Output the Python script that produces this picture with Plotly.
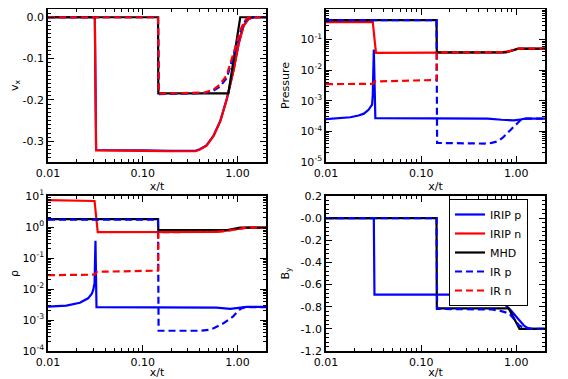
import math
import plotly.graph_objects as go
from plotly.subplots import make_subplots

# ---------------- data ----------------
# vx panel
vx_mhd_x = [0.01, 0.145, 0.146, 0.80, 1.07, 2.0]
vx_mhd_y = [0, 0, -0.184, -0.184, 0, 0]
vx_irp_x = [0.01, 0.145, 0.148, 0.30, 0.45, 0.55, 0.65, 0.77, 0.90, 1.00, 1.10, 1.20, 1.30, 2.0]
vx_irp_y = [0, 0, -0.186, -0.185, -0.183, -0.178, -0.168, -0.147, -0.095, -0.058, -0.028, -0.010, 0, 0]
vx_irn_x = [0.01, 0.145, 0.148, 0.30, 0.45, 0.55, 0.65, 0.77, 0.90, 1.00, 1.10, 1.20, 1.30, 2.0]
vx_irn_y = [0, 0, -0.185, -0.184, -0.182, -0.176, -0.163, -0.140, -0.090, -0.054, -0.025, -0.008, 0, 0]
vx_irip_p_x = [0.01, 0.0312, 0.0322, 0.05, 0.10, 0.20, 0.29, 0.36, 0.40, 0.47, 0.56, 0.66, 0.77, 0.91, 1.03, 1.16, 1.31, 1.48, 2.0]
vx_irip_p_y = [0, 0, -0.321, -0.321, -0.322, -0.323, -0.324, -0.323, -0.319, -0.310, -0.286, -0.250, -0.198, -0.127, -0.063, -0.020, -0.004, 0, 0]
vx_irip_n_x = vx_irip_p_x
vx_irip_n_y = [0, 0, -0.322, -0.322, -0.323, -0.324, -0.325, -0.324, -0.320, -0.311, -0.287, -0.251, -0.199, -0.128, -0.064, -0.021, -0.004, 0, 0]

# Pressure panel
p_mhd_x = [0.01, 0.145, 0.146, 0.78, 1.05, 2.0]
p_mhd_y = [0.43, 0.43, 0.038, 0.038, 0.051, 0.051]
p_irp_x = [0.01, 0.145, 0.147, 0.30, 0.46, 0.55, 0.63, 0.72, 0.80, 0.90, 1.02, 1.10, 1.25, 2.0]
p_irp_y = [0.43, 0.43, 4.2e-5, 4.0e-5, 4.0e-5, 4.2e-5, 4.7e-5, 6.2e-5, 8.9e-5, 1.25e-4, 1.8e-4, 2.3e-4, 2.6e-4, 2.6e-4]
p_irn_x = [0.01, 0.031, 0.033, 0.145, 0.146, 0.30, 0.78, 1.05, 2.0]
p_irn_y = [3.5e-3, 3.6e-3, 4.3e-3, 4.8e-3, 0.038, 0.038, 0.039, 0.051, 0.051]
p_irip_p_x = [0.01, 0.015, 0.018, 0.022, 0.025, 0.028, 0.0305, 0.031, 0.0318, 0.0330, 0.05, 0.10, 0.30, 0.50, 0.70, 0.94, 1.10, 1.25, 2.0]
p_irip_p_y = [2.5e-4, 2.7e-4, 2.9e-4, 3.3e-4, 3.8e-4, 5.1e-4, 7.5e-4, 1.5e-3, 0.047, 2.7e-4, 2.7e-4, 2.7e-4, 2.7e-4, 2.6e-4, 2.4e-4, 2.3e-4, 2.45e-4, 2.6e-4, 2.6e-4]
p_irip_n_x = [0.01, 0.031, 0.0335, 0.30, 0.70, 0.85, 1.05, 2.0]
p_irip_n_y = [0.37, 0.37, 0.037, 0.037, 0.038, 0.042, 0.050, 0.050]

# Density panel
r_mhd_x = [0.01, 0.145, 0.146, 0.78, 1.07, 2.0]
r_mhd_y = [1.8, 1.8, 0.80, 0.80, 0.96, 0.96]
r_irp_x = [0.01, 0.145, 0.147, 0.30, 0.40, 0.50, 0.56, 0.71, 0.90, 0.98, 1.08, 1.20, 2.0]
r_irp_y = [1.72, 1.72, 4.5e-4, 4.4e-4, 4.5e-4, 4.8e-4, 5.4e-4, 7.8e-4, 1.3e-3, 1.75e-3, 2.3e-3, 2.6e-3, 2.6e-3]
r_irn_x = [0.01, 0.031, 0.033, 0.145, 0.146, 0.30, 0.60, 0.80, 1.07, 1.25, 2.0]
r_irn_y = [0.028, 0.029, 0.036, 0.039, 0.68, 0.68, 0.70, 0.76, 0.90, 0.96, 0.96]
r_irip_p_x = [0.01, 0.0156, 0.0217, 0.0265, 0.0290, 0.0300, 0.0310, 0.0317, 0.0325, 0.10, 0.40, 0.60, 0.84, 1.00, 1.25, 2.0]
r_irip_p_y = [2.7e-3, 2.9e-3, 3.6e-3, 5.0e-3, 7.0e-3, 9.3e-3, 0.015, 0.36, 2.6e-3, 2.6e-3, 2.6e-3, 2.5e-3, 2.3e-3, 2.4e-3, 2.65e-3, 2.65e-3]
r_irip_n_x = [0.01, 0.030, 0.031, 0.0335, 0.30, 0.60, 0.77, 1.07, 1.25, 2.0]
r_irip_n_y = [7.4, 7.0, 6.9, 0.68, 0.68, 0.70, 0.76, 0.90, 0.96, 0.96]

# By panel
b_mhd_x = [0.01, 0.145, 0.146, 0.83, 1.08, 2.0]
b_mhd_y = [0, 0, -0.815, -0.815, -1.0, -1.0]
b_irp_x = [0.01, 0.145, 0.147, 0.40, 0.55, 0.68, 0.84, 0.94, 1.07, 1.20, 1.35, 2.0]
b_irp_y = [0, 0, -0.82, -0.82, -0.825, -0.838, -0.86, -0.91, -0.97, -0.99, -1.0, -1.0]
b_irip_p_x = [0.01, 0.0318, 0.0323, 0.10, 0.39, 0.49, 0.63, 0.74, 0.87, 1.02, 1.20, 1.30, 1.45, 2.0]
b_irip_p_y = [0, 0, -0.69, -0.69, -0.69, -0.70, -0.73, -0.77, -0.83, -0.90, -0.97, -0.99, -1.0, -1.0]

series_names = ["IRIP p", "IRIP n", "MHD", "IR p", "IR n"]

# tick labels
x_tickvals = [0.01, 0.1, 1.0]
x_ticktext = ["0.01", "0.10", "1.00"]
vx_tickvals = [0.0, -0.1, -0.2, -0.3]
vx_ticktext = ["0.0", "-0.1", "-0.2", "-0.3"]
p_tickvals = [1e0, 1e-1, 1e-2, 1e-3, 1e-4, 1e-5]
p_ticktext = ["10<sup>0</sup>", "10<sup>-1</sup>", "10<sup>-2</sup>", "10<sup>-3</sup>", "10<sup>-4</sup>", "10<sup>-5</sup>"]
r_tickvals = [1e1, 1e0, 1e-1, 1e-2, 1e-3, 1e-4]
r_ticktext = ["10<sup>1</sup>", "10<sup>0</sup>", "10<sup>-1</sup>", "10<sup>-2</sup>", "10<sup>-3</sup>", "10<sup>-4</sup>"]
b_tickvals = [0.2, 0.0, -0.2, -0.4, -0.6, -0.8, -1.0, -1.2]
b_ticktext = ["0.2", "-0.0", "-0.2", "-0.4", "-0.6", "-0.8", "-1.0", "-1.2"]

# ---------------- figure ----------------
BLUE = "#0000ff"
RED = "#ff0000"
BLACK = "#000000"
DASH = "7px,4px"
LW = 2.2

fig = make_subplots(rows=2, cols=2)

styles = {
    "IRIP p": dict(color=BLUE, dash="solid"),
    "IRIP n": dict(color=RED, dash="solid"),
    "MHD": dict(color=BLACK, dash="solid"),
    "IR p": dict(color=BLUE, dash=DASH),
    "IR n": dict(color=RED, dash=DASH),
}

panels = [
    (1, 1, [("IRIP p", vx_irip_p_x, vx_irip_p_y), ("IRIP n", vx_irip_n_x, vx_irip_n_y),
            ("MHD", vx_mhd_x, vx_mhd_y), ("IR p", vx_irp_x, vx_irp_y), ("IR n", vx_irn_x, vx_irn_y)]),
    (1, 2, [("IRIP p", p_irip_p_x, p_irip_p_y), ("IRIP n", p_irip_n_x, p_irip_n_y),
            ("MHD", p_mhd_x, p_mhd_y), ("IR p", p_irp_x, p_irp_y), ("IR n", p_irn_x, p_irn_y)]),
    (2, 1, [("IRIP p", r_irip_p_x, r_irip_p_y), ("IRIP n", r_irip_n_x, r_irip_n_y),
            ("MHD", r_mhd_x, r_mhd_y), ("IR p", r_irp_x, r_irp_y), ("IR n", r_irn_x, r_irn_y)]),
    (2, 2, [("IRIP p", b_irip_p_x, b_irip_p_y), ("MHD", b_mhd_x, b_mhd_y), ("IR p", b_irp_x, b_irp_y)]),
]

for row, col, traces in panels:
    for name, xs, ys in traces:
        fig.add_trace(go.Scatter(x=xs, y=ys, mode="lines", name=name,
                                 line=dict(width=LW, **styles[name]),
                                 showlegend=False, hoverinfo="skip"),
                      row=row, col=col)

# legend entries (dummy traces placed in By panel)
for name in series_names:
    fig.add_trace(go.Scatter(x=[None], y=[None], mode="lines", name=name,
                             line=dict(width=LW, **styles[name]), showlegend=True),
                  row=2, col=2)

# page body has an 8px margin: the figure sits at (8, 8) in the window
OFF = 8
W, H = 568 - OFF, 379 - OFF
def dx(a, b):
    return [(a - OFF) / W, (b - OFF) / W]
def dy(top, bot):
    return [1 - (bot - OFF) / H, 1 - (top - OFF) / H]

FONT = "DejaVu Sans, Verdana, sans-serif"
x_minor = [v * 10 ** e for e in (-2, -1, 0) for v in range(2, 10)]
x_minor = [m for m in x_minor if m <= 2.0]
log_minor = lambda lo, hi: [v * 10.0 ** e for e in range(lo, hi) for v in range(2, 10)]

common = dict(showline=True, linecolor="black", linewidth=1.5, mirror="allticks",
              ticks="inside", ticklen=6, tickwidth=1, tickcolor="black",
              showgrid=False, zeroline=False, automargin=False,
              tickfont=dict(family=FONT, size=11, color="black"))

xcommon = dict(common, type="log", range=[-2, math.log10(2.0)],
               tickmode="array", tickvals=x_tickvals, ticktext=x_ticktext,
               minor=dict(tickmode="array", tickvals=x_minor, ticks="inside", ticklen=3,
                          tickcolor="black", showgrid=False),
               title=dict(text="x/t", font=dict(family=FONT, size=11, color="black"), standoff=0))

ytitle_font = dict(family=FONT, size=11, color="black")

fig.update_layout(
    xaxis=dict(xcommon, domain=dx(48, 266)),
    xaxis2=dict(xcommon, domain=dx(326, 545)),
    xaxis3=dict(xcommon, domain=dx(48, 266)),
    xaxis4=dict(xcommon, domain=dx(326, 545)),
    yaxis=dict(common, domain=dy(9, 162), range=[-0.35, 0.02], tickmode="array",
               tickvals=vx_tickvals, ticktext=vx_ticktext,
               minor=dict(dtick=0.01, ticks="inside", ticklen=3, tickcolor="black", showgrid=False),
               title=dict(text="v<sub>x</sub>", font=ytitle_font, standoff=20)),
    yaxis2=dict(common, domain=dy(9, 162), type="log", range=[-5, 0], tickmode="array",
                tickvals=p_tickvals, ticktext=p_ticktext,
                minor=dict(tickmode="array", tickvals=log_minor(-5, 0), ticks="inside", ticklen=3,
                           tickcolor="black", showgrid=False),
                title=dict(text="Pressure", font=ytitle_font, standoff=9)),
    yaxis3=dict(common, domain=dy(196, 351), type="log", range=[-4, 1], tickmode="array",
                tickvals=r_tickvals, ticktext=r_ticktext,
                minor=dict(tickmode="array", tickvals=log_minor(-4, 1), ticks="inside", ticklen=3,
                           tickcolor="black", showgrid=False),
                title=dict(text="ρ", font=ytitle_font, standoff=17)),
    yaxis4=dict(common, domain=dy(196, 351), range=[-1.2, 0.2], tickmode="array",
                tickvals=b_tickvals, ticktext=b_ticktext,
                minor=dict(dtick=0.04, tick0=0.0, ticks="inside", ticklen=3, tickcolor="black", showgrid=False),
                title=dict(text="B<sub>y</sub>", font=ytitle_font, standoff=9)),
    width=W, height=H,
    margin=dict(l=0, r=0, t=0, b=0),
    paper_bgcolor="white", plot_bgcolor="white",
    font=dict(family=FONT, size=11, color="black"),
    legend=dict(x=(449 - OFF) / W, y=1 - (199 - OFF) / H, xanchor="left", yanchor="top",
                bgcolor="white", bordercolor="black", borderwidth=1,
                font=dict(family=FONT, size=11, color="black"),
                tracegroupgap=0, itemwidth=30),
    showlegend=True,
)

fig.write_html("out.html")
